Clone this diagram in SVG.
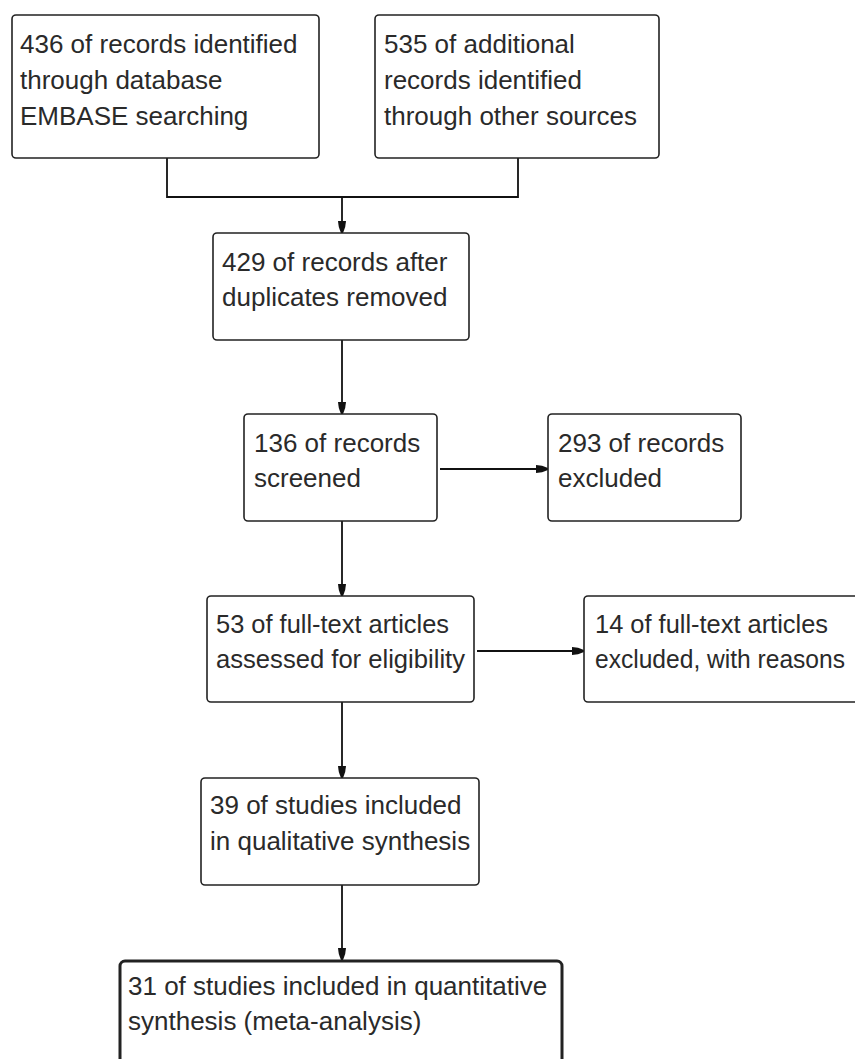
<svg xmlns="http://www.w3.org/2000/svg" width="855" height="1059" viewBox="0 0 855 1059">
<style>
.box{fill:#fff;stroke:#222;stroke-width:1.6}
.thick{stroke-width:3}
.t{font-family:"Liberation Sans",Arial,sans-serif;font-size:26px;fill:#2a2a2a}
.s{font-size:25px}
.c{fill:none;stroke:#111;stroke-width:1.8}
</style>
<defs>
<marker id="ah" viewBox="0 0 12 8" refX="12" refY="4" markerWidth="12" markerHeight="8" markerUnits="userSpaceOnUse" orient="auto">
<path d="M0,0 L6,0.8 L12,3 L12,5 L6,7.2 L0,8 Z" fill="#111"/>
</marker>
</defs>
<rect width="855" height="1059" fill="#fff"/>
<g id="connectors">
<path class="c" d="M167,158 V197 H518 V158"/>
<path class="c" d="M342,197 V233" marker-end="url(#ah)"/>
<path class="c" d="M342,340 V414" marker-end="url(#ah)"/>
<path class="c" d="M440,469 H548" marker-end="url(#ah)"/>
<path class="c" d="M342,521 V596" marker-end="url(#ah)"/>
<path class="c" d="M477,651 H584" marker-end="url(#ah)"/>
<path class="c" d="M342,702 V778" marker-end="url(#ah)"/>
<path class="c" d="M342,885 V960" marker-end="url(#ah)"/>
</g>
<g id="n1">
<rect class="box" x="12" y="15" width="307" height="143" rx="4"/>
<text class="t" x="20" y="53">436 of records identified</text>
<text class="t" x="20" y="89">through database</text>
<text class="t" x="20" y="125">EMBASE searching</text>
</g>
<g id="n2">
<rect class="box" x="375" y="15" width="284" height="143" rx="4"/>
<text class="t" x="384" y="53">535 of additional</text>
<text class="t" x="384" y="89">records identified</text>
<text class="t" x="384" y="125">through other sources</text>
</g>
<g id="n3">
<rect class="box" x="213" y="233" width="256" height="107" rx="4"/>
<text class="t" x="222" y="271">429 of records after</text>
<text class="t" x="222" y="306">duplicates removed</text>
</g>
<g id="n4">
<rect class="box" x="244" y="414" width="193" height="107" rx="4"/>
<text class="t" x="254" y="452">136 of records</text>
<text class="t" x="254" y="487">screened</text>
</g>
<g id="n5">
<rect class="box" x="548" y="414" width="193" height="107" rx="4"/>
<text class="t" x="558" y="452">293 of records</text>
<text class="t" x="558" y="487">excluded</text>
</g>
<g id="n6">
<rect class="box" x="207" y="596" width="267" height="106" rx="4"/>
<text class="t" x="216" y="633" textLength="233" lengthAdjust="spacingAndGlyphs">53 of full-text articles</text>
<text class="t" x="216" y="668" textLength="249" lengthAdjust="spacingAndGlyphs">assessed for eligibility</text>
</g>
<g id="n7">
<rect class="box" x="584" y="596" width="290" height="106" rx="4"/>
<text class="t s" x="595" y="633" textLength="233" lengthAdjust="spacingAndGlyphs">14 of full-text articles</text>
<text class="t s" x="595" y="668" textLength="250" lengthAdjust="spacingAndGlyphs">excluded, with reasons</text>
</g>
<g id="n8">
<rect class="box" x="201" y="778" width="278" height="107" rx="4"/>
<text class="t" x="210" y="814">39 of studies included</text>
<text class="t" x="210" y="850">in qualitative synthesis</text>
</g>
<g id="n9">
<rect class="box thick" x="120" y="961" width="442" height="130" rx="5"/>
<text class="t" x="128" y="995">31 of studies included in quantitative</text>
<text class="t" x="128" y="1030">synthesis (meta-analysis)</text>
</g>
</svg>
